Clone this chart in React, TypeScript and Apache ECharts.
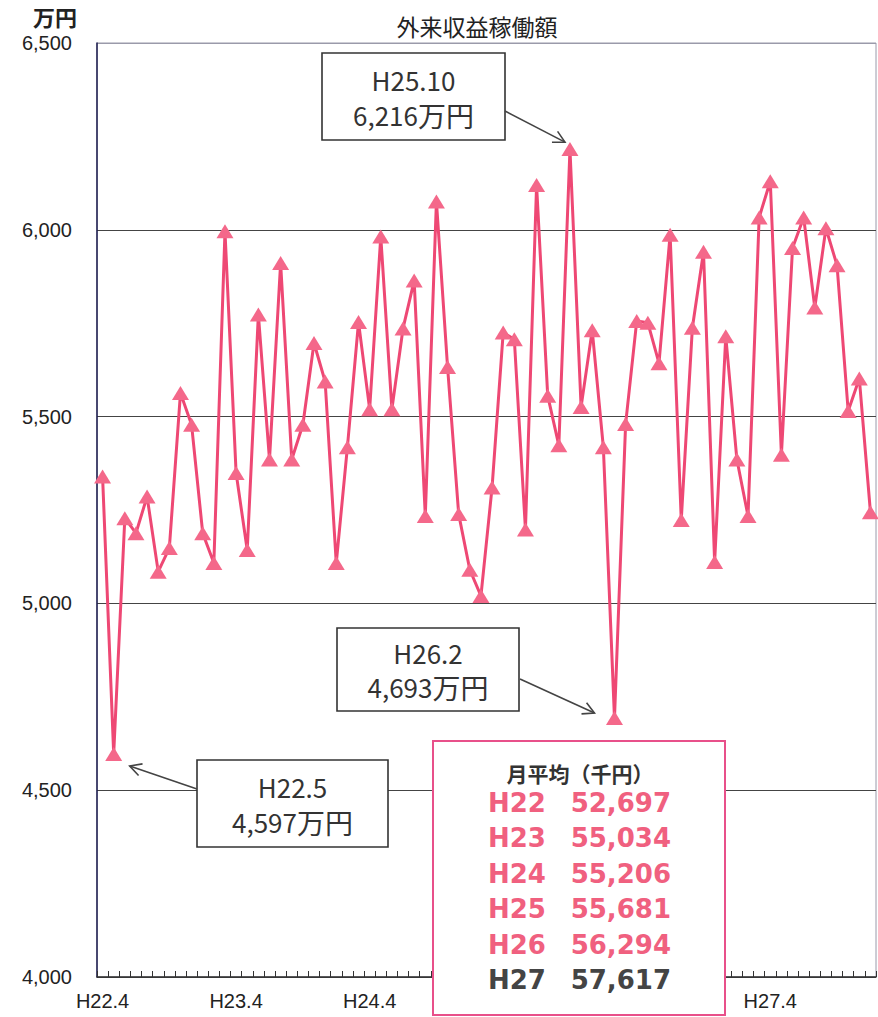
import React, { useEffect, useRef } from "react";
import * as echarts from "echarts";

const monthLabels = [
  "H22.4", "H22.5", "H22.6", "H22.7", "H22.8", "H22.9", "H22.10", "H22.11", "H22.12", "H23.1", "H23.2", "H23.3",
  "H23.4", "H23.5", "H23.6", "H23.7", "H23.8", "H23.9", "H23.10", "H23.11", "H23.12", "H24.1", "H24.2", "H24.3",
  "H24.4", "H24.5", "H24.6", "H24.7", "H24.8", "H24.9", "H24.10", "H24.11", "H24.12", "H25.1", "H25.2", "H25.3",
  "H25.4", "H25.5", "H25.6", "H25.7", "H25.8", "H25.9", "H25.10", "H25.11", "H25.12", "H26.1", "H26.2", "H26.3",
  "H26.4", "H26.5", "H26.6", "H26.7", "H26.8", "H26.9", "H26.10", "H26.11", "H26.12", "H27.1", "H27.2", "H27.3",
  "H27.4", "H27.5", "H27.6", "H27.7", "H27.8", "H27.9", "H27.10", "H27.11", "H27.12", "H28.1",
];

// 外来収益 (万円)
const revenue = [
  5340, 4597, 5228, 5188, 5286, 5085, 5148, 5563, 5478, 5188, 5108, 5996,
  5349, 5143, 5773, 5385, 5911, 5385, 5478, 5697, 5594, 5108, 5418, 5753,
  5520, 5982, 5520, 5736, 5864, 5234, 6076, 5633, 5239, 5090, 5020, 5310,
  5725, 5707, 5198, 6120, 5556, 5423, 6216, 5526, 5731, 5418, 4693, 5480,
  5756, 5751, 5643, 5987, 5223, 5738, 5941, 5111, 5715, 5385, 5234, 6033,
  6130, 5398, 5951, 6033, 5792, 6004, 5905, 5515, 5602, 5244,
];

const yTicks = [4000, 4500, 5000, 5500, 6000, 6500];

// x tick labels that the reference shows (others are under the average box)
const shownXLabels = ["H22.4", "H23.4", "H24.4", "H27.4"];

// annotated months (index into monthLabels)
const annotatedIndex = [42, 46, 1];

const avgYears = ["H22", "H23", "H24", "H25", "H26", "H27"];
const avgValues = [52697, 55034, 55206, 55681, 56294, 57617];

// layout of annotation boxes (x, y, w, h), arrow start and arrow end offsets from the point
const boxLayout = [
  { x: 322, y: 53, w: 183, h: 87, ax: 505, ay: 111, dx: -5, dy: -7 },
  { x: 337, y: 628, w: 182, h: 83, ax: 520, ay: 679, dx: -20, dy: -5 },
  { x: 197, y: 760, w: 191, h: 87, ax: 197, ay: 789, dx: 16, dy: 12 },
];

const fmt = (v: number) => v.toLocaleString("en-US");

const PINK = "#f0607f";
const LINE = "#ee4874";
const AXIS_FONT = "'Liberation Sans', Arial, sans-serif";
const JP_FONT = "'Noto Sans CJK JP', 'Noto Sans', sans-serif";

function arrowHead(x1: number, y1: number, x2: number, y2: number) {
  const a = Math.atan2(y2 - y1, x2 - x1);
  const L = 13;
  const phi = (28 * Math.PI) / 180;
  return [
    [x2 - L * Math.cos(a - phi), y2 - L * Math.sin(a - phi)],
    [x2, y2],
    [x2 - L * Math.cos(a + phi), y2 - L * Math.sin(a + phi)],
  ];
}

export default function App() {
  const ref = useRef<HTMLDivElement>(null);

  useEffect(() => {
    if (!ref.current) return;
    const chart = echarts.init(ref.current, undefined, { renderer: "svg" });

    chart.setOption({
      animation: false,
      backgroundColor: "#ffffff",
      grid: {
        left: 97,
        right: 2,
        top: 43,
        bottom: 40,
        show: true,
        borderColor: "#9a9aaa",
        borderWidth: 1,
        containLabel: false,
      },
      xAxis: {
        type: "category",
        data: monthLabels,
        boundaryGap: true,
        axisLine: { show: true, lineStyle: { color: "#333", width: 1.5 } },
        axisTick: {
          show: true,
          inside: true,
          length: 6,
          interval: 0,
          alignWithLabel: false,
          lineStyle: { color: "#333", width: 1 },
        },
        axisLabel: {
          interval: (i: number, v: string) => shownXLabels.includes(v),
          margin: 14,
          fontSize: 20,
          fontFamily: AXIS_FONT,
          color: "#222",
        },
        splitLine: { show: false },
      },
      yAxis: {
        type: "value",
        min: yTicks[0],
        max: yTicks[yTicks.length - 1],
        interval: 500,
        axisLine: { show: true, lineStyle: { color: "#1d1d4f", width: 1.5 } },
        axisTick: { show: false },
        axisLabel: {
          margin: 25,
          fontSize: 20,
          fontFamily: AXIS_FONT,
          color: "#222",
          formatter: (v: number) => fmt(v),
        },
        splitLine: {
          show: true,
          lineStyle: {
            color: ["#444", "#444", "#444", "#444", "#444", "#9a9aaa"],
            width: 1,
          },
        },
      },
      series: [
        {
          type: "line",
          data: revenue,
          symbol: "triangle",
          symbolSize: [17, 14],
          showAllSymbol: true,
          lineStyle: { color: LINE, width: 3 },
          itemStyle: { color: "#f4688a" },
          z: 3,
        },
      ],
    });

    const g: any[] = [];
    g.push({
      type: "text",
      x: 55,
      y: 16,
      style: {
        text: "万円",
        font: `bold 22px ${JP_FONT}`,
        fill: "#222",
        textAlign: "center",
        textVerticalAlign: "middle",
      },
    });
    g.push({
      type: "text",
      x: 477,
      y: 26,
      style: {
        text: "外来収益稼働額",
        font: `23px ${JP_FONT}`,
        fill: "#222",
        textAlign: "center",
        textVerticalAlign: "middle",
      },
    });

    annotatedIndex.forEach((idx, i) => {
      const b = boxLayout[i];
      const pt = chart.convertToPixel({ seriesIndex: 0 }, [idx, revenue[idx]]) as number[];
      const ex = pt[0] + b.dx;
      const ey = pt[1] + b.dy;
      g.push({
        type: "rect",
        z: 100,
        shape: { x: b.x, y: b.y, width: b.w, height: b.h },
        style: { fill: "#fff", stroke: "#333", lineWidth: 1.6 },
      });
      g.push({
        type: "text",
        z: 101,
        x: b.x + b.w / 2,
        y: b.y + b.h * 0.3,
        style: {
          text: monthLabels[idx],
          font: `26px ${JP_FONT}`,
          fill: "#333",
          textAlign: "center",
          textVerticalAlign: "middle",
        },
      });
      g.push({
        type: "text",
        z: 101,
        x: b.x + b.w / 2,
        y: b.y + b.h * 0.71,
        style: {
          text: `{n|${fmt(revenue[idx])}}{u|万円}`,
          textAlign: "center",
          textVerticalAlign: "middle",
          rich: {
            n: { font: `26px ${JP_FONT}`, fill: "#333" },
            u: { font: `28px ${JP_FONT}`, fill: "#333" },
          },
        },
      });
      g.push({
        type: "line",
        z: 100,
        shape: { x1: b.ax, y1: b.ay, x2: ex, y2: ey },
        style: { stroke: "#444", lineWidth: 1.6 },
      });
      g.push({
        type: "polyline",
        z: 100,
        shape: { points: arrowHead(b.ax, b.ay, ex, ey) },
        style: { stroke: "#444", lineWidth: 1.6, fill: null },
      });
    });

    // monthly average box
    const ab = { x: 433, y: 741, w: 292, h: 274 };
    g.push({
      type: "rect",
      z: 100,
      shape: { x: ab.x, y: ab.y, width: ab.w, height: ab.h },
      style: { fill: "#fff", stroke: "#e8508a", lineWidth: 2 },
    });
    g.push({
      type: "text",
      z: 101,
      x: 580,
      y: 773,
      style: {
        text: "月平均（千円）",
        font: `bold 21px ${JP_FONT}`,
        fill: "#333",
        textAlign: "center",
        textVerticalAlign: "middle",
      },
    });
    avgYears.forEach((yr, i) => {
      const last = i === avgYears.length - 1;
      const color = last ? "#444" : PINK;
      const y = 803 + i * 35.4;
      g.push({
        type: "text",
        z: 101,
        x: 488,
        y,
        style: {
          text: yr,
          font: `bold 26px 'DejaVu Sans', sans-serif`,
          fill: color,
          textAlign: "left",
          textVerticalAlign: "middle",
        },
      });
      g.push({
        type: "text",
        z: 101,
        x: 671,
        y,
        style: {
          text: fmt(avgValues[i]),
          font: `bold 26px 'DejaVu Sans', sans-serif`,
          fill: color,
          textAlign: "right",
          textVerticalAlign: "middle",
        },
      });
    });

    chart.setOption({ graphic: g });

    return () => chart.dispose();
  }, []);

  return (
    <div
      ref={ref}
      style={{ position: "absolute", left: 0, top: 0, width: 878, height: 1017 }}
    />
  );
}
